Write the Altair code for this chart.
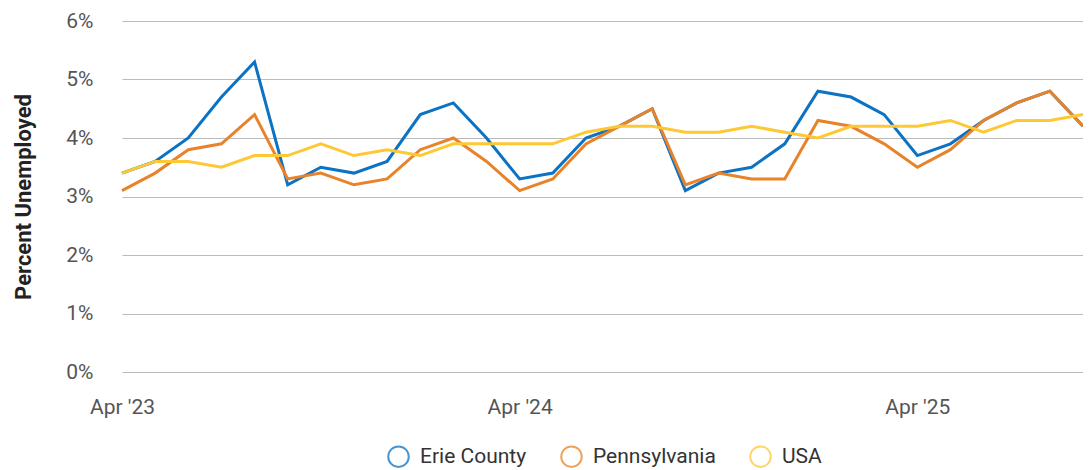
import altair as alt
import pandas as pd

months = ["Apr '23","May '23","Jun '23","Jul '23","Aug '23","Sep '23","Oct '23","Nov '23","Dec '23",
          "Jan '24","Feb '24","Mar '24","Apr '24","May '24","Jun '24","Jul '24","Aug '24","Sep '24",
          "Oct '24","Nov '24","Dec '24","Jan '25","Feb '25","Mar '25","Apr '25","May '25","Jun '25",
          "Jul '25","Aug '25","Sep '25"]
erie = [3.4,3.6,4.0,4.7,5.3,3.2,3.5,3.4,3.6,4.4,4.6,4.0,3.3,3.4,4.0,4.2,4.5,3.1,3.4,3.5,3.9,4.8,4.7,4.4,3.7,3.9,4.3,4.6,4.8,4.2]
penn = [3.1,3.4,3.8,3.9,4.4,3.3,3.4,3.2,3.3,3.8,4.0,3.6,3.1,3.3,3.9,4.2,4.5,3.2,3.4,3.3,3.3,4.3,4.2,3.9,3.5,3.8,4.3,4.6,4.8,4.2]
usa = [3.4,3.6,3.6,3.5,3.7,3.7,3.9,3.7,3.8,3.7,3.9,3.9,3.9,3.9,4.1,4.2,4.2,4.1,4.1,4.2,4.1,4.0,4.2,4.2,4.2,4.3,4.1,4.3,4.3,4.4]
series = ["Erie County", "Pennsylvania", "USA"]
colors = ["#0b72c4", "#e8832a", "#fec834"]

rows = []
for name, vals in zip(series, [erie, penn, usa]):
    for i, (m, v) in enumerate(zip(months, vals)):
        rows.append({"month": m, "idx": i, "series": name, "value": v / 100})
df = pd.DataFrame(rows)

FONT = "Roboto"

chart = alt.Chart(df).mark_line(strokeWidth=3).encode(
    x=alt.X("month:O", sort=months, title=None,
            scale=alt.Scale(type="point", padding=0),
            axis=alt.Axis(labelAngle=0, ticks=False, domain=False, grid=False,
                          labelExpr="substring(datum.label, 0, 3) == 'Apr' ? datum.label : ''",
                          labelFontSize=21, labelColor="#555", labelPadding=24,
                          labelFont=FONT, labelOverlap=False)),
    y=alt.Y("value:Q", title="Percent Unemployed",
            scale=alt.Scale(domain=[0, 0.06]),
            axis=alt.Axis(format=".0%", values=[0,0.01,0.02,0.03,0.04,0.05,0.06],
                          ticks=False, domain=False, gridColor="#bbbbbb", gridWidth=1,
                          labelFontSize=21, labelColor="#555", labelPadding=29,
                          labelFont=FONT, titleFont=FONT, titleFontSize=22,
                          titleFontWeight="bold", titleColor="#222", titlePadding=30)),
    color=alt.Color("series:N", sort=series,
                    scale=alt.Scale(domain=series, range=colors),
                    legend=alt.Legend(title=None, orient="none", direction="horizontal",
                                      legendX=265, legendY=424, padding=0,
                                      symbolType="circle", symbolSize=420, symbolStrokeWidth=2,
                                      symbolFillColor="transparent", symbolOpacity=0.75,
                                      labelFontSize=21, labelFont=FONT, labelColor="#333",
                                      labelOffset=10, columnPadding=30)),
).properties(width=961, height=351, autosize=alt.AutoSizeParams(type="none"),
             padding={"left": 114, "top": 13, "right": 0, "bottom": 100}
).configure_view(stroke=None)

chart.save("out.html", embed_options={"renderer": "svg", "actions": False})
